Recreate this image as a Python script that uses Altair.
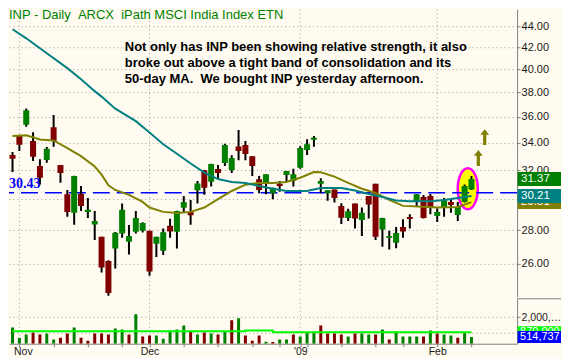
import json
import altair as alt
import pandas as pd

# ---------------- data ----------------
day_idx = list(range(68))
opens = [33.08, 34.50, 35.37, 34.12, 32.29, 32.72, 35.19, 32.36, 30.33, 29.12,
         30.36, 29.17, 28.36, 27.60, 26.17, 26.90, 27.80, 27.31, 27.91, 27.97,
         27.97, 27.18, 26.76, 28.28, 27.91, 29.43, 29.17, 30.60, 31.99, 31.18,
         32.07, 32.51, 32.00, 33.71, 33.83, 33.00, 31.35, 31.16, 30.39, 31.04,
         31.65, 31.23, 32.17, 33.45, 34.22, 31.04, 30.39, 30.66, 29.56, 28.78,
         29.71, 28.65, 30.22, 31.04, 28.05, 27.55, 27.25, 28.21, 28.84, 29.82,
         30.15, 30.22, 28.91, 29.49, 29.82, 28.97, 29.82, 30.66]
highs = [33.30, 34.55, 36.68, 34.80, 32.77, 33.67, 36.14, 32.36, 30.62, 31.60,
         30.89, 30.08, 29.23, 27.60, 26.20, 27.90, 29.72, 28.34, 29.23, 28.50,
         27.97, 27.60, 28.11, 28.73, 29.25, 30.22, 29.95, 31.23, 32.00, 32.45,
         32.36, 33.92, 33.07, 34.96, 34.12, 33.00, 31.58, 31.70, 30.77, 31.23,
         31.93, 32.10, 33.73, 34.25, 34.50, 31.42, 30.60, 30.66, 29.73, 29.38,
         29.71, 29.45, 30.22, 31.04, 28.80, 27.97, 28.21, 28.69, 29.02, 30.35,
         30.28, 30.35, 29.40, 30.08, 30.00, 29.82, 31.00, 31.58]
lows = [31.86, 33.38, 35.22, 32.65, 31.00, 32.53, 33.69, 31.11, 28.86, 28.35,
        29.23, 28.78, 27.41, 25.50, 24.22, 25.73, 27.55, 26.54, 27.80, 27.87,
        25.32, 26.40, 26.52, 27.55, 26.90, 29.12, 28.35, 29.71, 30.30, 30.85,
        31.35, 32.29, 31.80, 32.70, 32.70, 31.58, 30.39, 30.33, 30.00, 30.50,
        31.16, 30.85, 32.10, 33.09, 33.69, 30.39, 29.89, 29.78, 28.40, 28.59,
        28.11, 27.66, 28.74, 27.41, 27.00, 26.84, 26.92, 27.55, 28.11, 29.56,
        28.74, 29.02, 28.52, 28.86, 29.12, 28.59, 29.78, 30.62]
closes = [32.81, 33.85, 36.54, 32.96, 31.46, 33.55, 34.12, 31.80, 29.17, 31.58,
          29.56, 29.30, 28.59, 25.79, 24.37, 27.86, 29.30, 27.66, 28.78, 28.46,
          25.56, 27.60, 27.88, 27.93, 29.23, 29.82, 28.95, 31.07, 30.77, 32.43,
          31.79, 33.83, 32.87, 33.38, 33.16, 32.29, 30.62, 31.70, 30.77, 30.89,
          31.93, 31.70, 33.60, 33.88, 34.37, 31.23, 30.60, 30.08, 28.80, 29.21,
          28.74, 29.12, 29.65, 27.60, 28.78, 27.66, 27.84, 27.93, 28.72, 30.33,
          28.78, 29.45, 29.17, 29.93, 29.62, 29.49, 30.89, 31.37]

volumes = [1230000, 460000, 690000, 850000, 690000, 770000, 310000, 460000, 770000, 1230000,
           460000, 230000, 770000, 770000, 690000, 1150000, 1080000, 690000, 2230000, 540000,
           620000, 620000, 380000, 1000000, 1080000, 1380000, 920000, 690000, 850000, 770000,
           690000, 920000, 1770000, 1920000, 620000, 230000, 620000, 150000, 130000, 310000,
           310000, 690000, 540000, 850000, 850000, 1380000, 770000, 770000, 690000, 540000,
           770000, 770000, 690000, 690000, 1080000, 310000, 920000, 540000, 540000, 540000,
           540000, 1000000, 770000, 690000, 620000, 460000, 850000, 514737]
vol_updown = "UUUDDUUDDUDDDDDUUDUDDUUUUUDUDUDUDUDDDUDUUDUUUDDDDUDUUDUDUUUUDUDUUDUU"

ma50_idx = [0, 2, 5, 8, 10, 12, 13, 15, 18, 20, 22, 24, 26, 28, 30, 32, 34, 36, 38,
            40, 43, 45, 48, 50, 52, 54, 56, 58, 61, 63, 65, 67]
ma50_val = [43.71, 42.84, 41.44, 40.10, 39.13, 38.11, 37.65, 36.66, 35.66, 34.77, 33.88,
            33.18, 32.47, 31.82, 31.37, 31.17, 31.10, 30.89, 30.70, 30.55, 30.55, 30.75,
            30.75, 30.58, 30.35, 30.15, 29.92, 29.87, 29.87, 29.95, 30.08, 30.21]
ma20_idx = [0, 2, 4, 6, 8, 10, 12, 13, 14, 15, 17, 19, 20, 22, 24, 26, 28, 30, 32, 34,
            36, 38, 40, 42, 44, 45, 47, 49, 51, 53, 55, 57, 60, 62, 65, 67]
ma20_val = [34.50, 34.56, 34.24, 34.17, 33.60, 33.00, 32.25, 31.68, 30.94, 30.62, 30.29,
            29.82, 29.45, 29.17, 29.09, 29.17, 29.45, 30.00, 30.55, 30.98, 31.10, 31.10,
            31.16, 31.46, 31.86, 31.84, 31.54, 31.11, 30.70, 30.42, 29.95, 29.56, 29.51,
            29.45, 29.49, 29.81]

vol_ma_idx = [0, 34, 38, 67]
vol_ma_val = [950000, 1000000, 870000, 870000]

price_ticks = [26, 28, 30, 32, 34, 36, 38, 40, 42, 44]
week_ticks = [1, 6, 11, 16, 20, 25, 30, 35, 39, 42, 43, 48, 53, 57, 62, 67]
month_idx = [1, 20, 42, 62]
month_lab = ["Nov", "Dec", "'09", "Feb"]
vol_label_value = 2000000
vol_label_text = "2,000,0.."

level_line = 30.43
last_vals = [29.81, 30.21, 31.37]
last_names = ["ma20", "ma50", "close"]
vol_last = [870000, 514737]
vol_last_names = ["vma", "vol"]

ellipse_pt = {"idx": [66.46], "price": [30.70]}
arrow_pts = {"idx": [68.0, 68.93], "price": [32.86, 34.42]}

title_text = "INP - Daily\u00a0\u00a0ARCX\u00a0\u00a0iPath MSCI India Index ETN"
note_text = ("Not only has INP been showing relative strength, it also\n"
             "broke out above a tight band of consolidation and its\n"
             "50-day MA.\u00a0\u00a0We bought INP yesterday afternoon.")

# ---------------- styling ----------------
BG = "#fffbf0"
FONT = "Liberation Sans"
GRID = "#9c9c9c"
AXC = "#808080"
W, HP, HV = 509, 288, 45
RIGHT = 553

x_scale = alt.Scale(domain=[0.2143, 72.93], nice=False, zero=False)
y_price = alt.Scale(type="log", domain=[24.17, 45.68], nice=False, zero=False)
y_vol = alt.Scale(domain=[0, 3396000], nice=False, zero=False)

PRICE_AXIS = alt.Axis(orient="right", values=price_ticks, format=".2f", title=None,
                      grid=True, gridColor=GRID, gridDash=[1, 3], gridWidth=1,
                      tickSize=3, tickColor=AXC, domainColor=AXC, domainWidth=1,
                      labelFont=FONT, labelFontSize=11, labelColor="#1a1a1a",
                      labelPadding=1, labelOverlap=False, zindex=0)

label_expr = "''"
for i, lab in reversed(list(zip(month_idx, month_lab))):
    label_expr = f"datum.value == {i} ? {json.dumps(lab)} : " + label_expr

VOL_X_AXIS = alt.Axis(values=week_ticks, labelExpr=label_expr, title=None, grid=False,
                      tickSize=3, tickColor=AXC, domainColor=AXC, domainWidth=1,
                      labelFont=FONT, labelFontSize=10.5, labelColor="#1a1a1a",
                      labelPadding=0, labelOverlap=False, labelFlush=False,
                      labelOffset={"condition": {"test": "datum.value == 1", "value": 3.5},
                                   "value": 0},
                      zindex=0)
VOL_Y_AXIS = alt.Axis(orient="right", values=[800000, vol_label_value], title=None,
                      labelExpr=f"datum.value == {vol_label_value} ? {json.dumps(vol_label_text)} : ''",
                      grid=True, gridColor=GRID, gridDash=[1, 3], tickSize=3,
                      tickColor=AXC, domainColor=AXC, labelFont=FONT, labelFontSize=10.5,
                      labelColor="#1a1a1a", labelPadding=1, labelLimit=40, zindex=0)

candles = pd.DataFrame({"idx": day_idx, "open": opens, "high": highs, "low": lows,
                        "close": closes,
                        "dir": ["up" if c >= o else "down" for o, c in zip(opens, closes)]})
vol_df = pd.DataFrame({"idx": day_idx, "vol": volumes,
                       "dir": ["up" if ch == "U" else "down" for ch in vol_updown]})
ma50 = pd.DataFrame({"idx": ma50_idx, "price": ma50_val})
ma20 = pd.DataFrame({"idx": ma20_idx, "price": ma20_val})
vma = pd.DataFrame({"idx": vol_ma_idx, "vol": vol_ma_val})
months = pd.DataFrame({"idx": month_idx})
level = pd.DataFrame({"price": [level_line]})
lastv = pd.DataFrame({"val": last_vals, "name": last_names})
vlast = pd.DataFrame({"val": vol_last, "name": vol_last_names})
one = pd.DataFrame({"a": [0]})

XP = alt.X("idx:Q", scale=x_scale, axis=None)
XV = alt.X("idx:Q", scale=x_scale, axis=VOL_X_AXIS)


def py(field):
    return alt.Y(field, scale=y_price, axis=PRICE_AXIS)


def vy(field):
    return alt.Y(field, scale=y_vol, axis=VOL_Y_AXIS)


# ---------------- price panel ----------------
vgrid = alt.Chart(months).mark_rule(color=GRID, strokeDash=[1, 3], strokeWidth=1).encode(x=XP)

ellipse = alt.Chart(pd.DataFrame(ellipse_pt)).mark_point(
    shape="M -0.49 0 A 0.49 1 0 1 1 0.49 0 A 0.49 1 0 1 1 -0.49 0 Z",
    size=1681, filled=True, fill="#ffff00", stroke="#ff00ff", strokeWidth=2.5,
    opacity=1, fillOpacity=1, strokeOpacity=1
).encode(x=XP, y=py("price:Q"))

level_rule = alt.Chart(level).mark_rule(color="#0000ff", strokeDash=[17, 7],
                                        strokeWidth=1.5).encode(y=py("price:Q"))

level_label = alt.Chart(level).mark_text(
    align="left", baseline="bottom", dy=-2, font="Liberation Serif", fontSize=14,
    fontWeight="bold", color="#0000ff"
).encode(x=alt.value(0), y=py("price:Q"), text=alt.Text("price:Q", format=".2f"))

wicks = alt.Chart(candles).mark_rule(color="black", strokeWidth=2, clip=True).encode(
    x=XP, y=py("low:Q"), y2="high:Q")
bodies = alt.Chart(candles).mark_bar(size=6, clip=True).encode(
    x=XP, y=py("open:Q"), y2="close:Q",
    color=alt.Color("dir:N", scale=alt.Scale(domain=["up", "down"], range=["#008000", "#800000"]),
                    legend=None))

line50 = alt.Chart(ma50).mark_line(color="#008080", strokeWidth=2, clip=True).encode(
    x=XP, y=py("price:Q"))
line20 = alt.Chart(ma20).mark_line(color="#808000", strokeWidth=2, clip=True).encode(
    x=XP, y=py("price:Q"))

arrows = alt.Chart(pd.DataFrame(arrow_pts)).mark_point(
    shape="M 0 -1 L 0.55 -0.3 L 0.2 -0.3 L 0.2 1 L -0.2 1 L -0.2 -0.3 L -0.55 -0.3 Z",
    size=256, filled=True, color="#808000", opacity=1
).encode(x=XP, y=py("price:Q"))

box_colors = {"ma20": "#808000", "ma50": "#008080", "close": "#008000"}
box_layers = []
for name in last_names:
    base = alt.Chart(lastv).transform_filter(alt.datum.name == name)
    box_layers.append(base.mark_rect(yOffset=-7, y2Offset=7, color=box_colors[name]).encode(
        x=alt.value(509.5), x2=alt.value(RIGHT), y=py("val:Q"), y2="val:Q"))
    box_layers.append(base.mark_text(align="left", baseline="middle", color="white",
                                     font=FONT, fontSize=11.5).encode(
        x=alt.value(513), y=py("val:Q"), text=alt.Text("val:Q", format=".2f")))

title = alt.Chart(one).mark_text(align="left", baseline="top", color="#008000",
                                 font="Liberation Sans Narrow, Liberation Sans", fontSize=13).encode(
    x=alt.value(0), y=alt.value(0), text=alt.value(title_text))

note = alt.Chart(one).mark_text(align="left", baseline="top", color="black", font=FONT,
                                fontSize=13, fontWeight="bold", lineBreak="\n",
                                lineHeight=16).encode(
    x=alt.value(116), y=alt.value(32), text=alt.value(note_text))

price = alt.layer(vgrid, ellipse, level_rule, wicks, bodies, line20, line50, arrows,
                  level_label, title, note, *box_layers).properties(width=W, height=HP)

# ---------------- volume panel ----------------
vgrid2 = alt.Chart(months).mark_rule(color=GRID, strokeDash=[1, 3], strokeWidth=1).encode(x=XV)

vbars = alt.Chart(vol_df).mark_bar(size=3, clip=True).encode(
    x=XV, y=vy("vol:Q"),
    color=alt.Color("dir:N", scale=alt.Scale(domain=["up", "down"], range=["#0000ff", "#ff0000"]),
                    legend=None))

vline = alt.Chart(vma).mark_line(color="#00ff00", strokeWidth=2, interpolate="step-after",
                                 clip=True).encode(x=XV, y=vy("vol:Q"))

sep = alt.Chart(one).mark_rule(color=AXC, strokeWidth=1).encode(
    x=alt.value(509), x2=alt.value(RIGHT), y=alt.value(0))

vbox_colors = {"vma": "#00ff00", "vol": "#0000ff"}
vbox_layers = []
for name in vol_last_names:
    base = alt.Chart(vlast).transform_filter(alt.datum.name == name)
    vbox_layers.append(base.mark_rect(yOffset=-6, y2Offset=6, color=vbox_colors[name]).encode(
        x=alt.value(509.5), x2=alt.value(RIGHT), y=vy("val:Q"), y2="val:Q"))
    vbox_layers.append(base.mark_text(align="left", baseline="middle", color="white",
                                      font=FONT, fontSize=11, limit=40).encode(
        x=alt.value(512), y=vy("val:Q"), text=alt.Text("val:Q", format=",d")))

volume = alt.layer(vgrid2, vbars, vline, sep, *vbox_layers).properties(width=W, height=HV)

chart = alt.vconcat(price, volume, spacing=0).properties(
    background=BG, padding={"left": 0, "top": 0, "right": 0, "bottom": 0}
).configure_view(stroke=None)

chart.save("out.html", embed_options={"renderer": "svg", "actions": False})
